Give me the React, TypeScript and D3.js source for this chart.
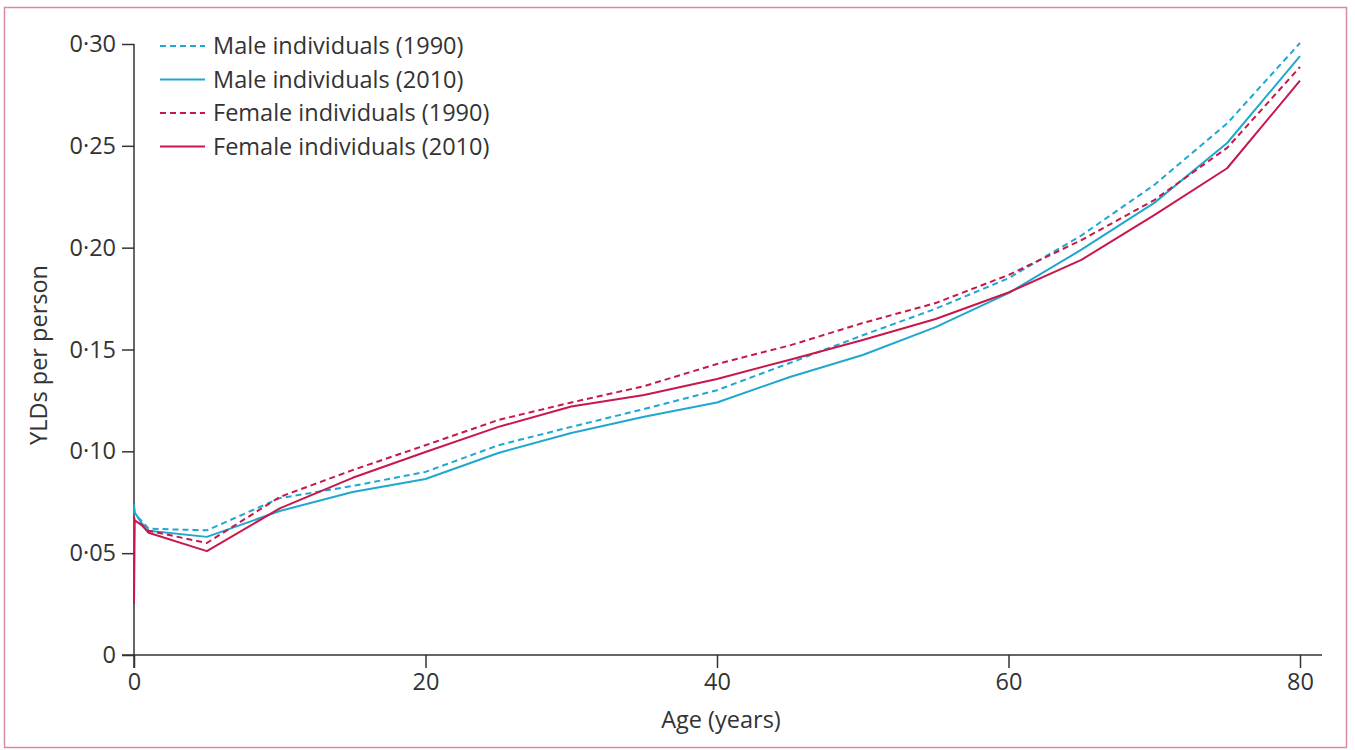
import * as d3 from "d3";
import { useEffect, useRef } from "react";

// age groups (years); first three are neonatal / post-neonatal groups
const ages = [0, 0.05, 0.5, 1, 5, 10, 15, 20, 25, 30, 35, 40, 45, 50, 55, 60, 65, 70, 75, 80];

const male1990 = [0.072, 0.069, 0.066, 0.062, 0.0612, 0.077, 0.083, 0.0899, 0.103, 0.112, 0.1208, 0.130, 0.1434, 0.157, 0.170, 0.185, 0.206, 0.2308, 0.261, 0.3005];
const male2010 = [0.074, 0.070, 0.065, 0.061, 0.058, 0.0707, 0.080, 0.0864, 0.0992, 0.109, 0.117, 0.124, 0.1365, 0.1473, 0.161, 0.1777, 0.199, 0.222, 0.2514, 0.294];
const female1990 = [0.068, 0.066, 0.064, 0.061, 0.055, 0.0776, 0.0908, 0.103, 0.1154, 0.124, 0.132, 0.1429, 0.152, 0.163, 0.1728, 0.1866, 0.2037, 0.2234, 0.249, 0.2887];
const female2010 = [0.025, 0.066, 0.064, 0.060, 0.051, 0.072, 0.087, 0.0997, 0.112, 0.122, 0.1277, 0.1355, 0.145, 0.1547, 0.165, 0.178, 0.194, 0.216, 0.239, 0.282];

const seriesNames = ["Male individuals (1990)", "Male individuals (2010)", "Female individuals (1990)", "Female individuals (2010)"];
const yTicks = [0, 0.05, 0.1, 0.15, 0.2, 0.25, 0.3];
const xTicks = [0, 20, 40, 60, 80];

const CYAN = "#1fa8cf";
const RED = "#c8174b";
const INK = "#333";

export default function App() {
  const ref = useRef<SVGSVGElement>(null);

  useEffect(() => {
    const width = 1355;
    const height = 750;
    const svg = d3.select(ref.current);
    svg.selectAll("*").remove();
    svg.attr("width", width).attr("height", height);

    const x = d3.scaleLinear().domain([0, 80]).range([134, 1300]);
    const y = d3.scaleLinear().domain([0, 0.3]).range([655, 44]);

    svg.append("rect")
      .attr("x", 4.5).attr("y", 7.5)
      .attr("width", 1342).attr("height", 740)
      .attr("fill", "#fff")
      .attr("stroke", "#d98aa1")
      .attr("stroke-width", 1.5);

    const font = "'Open Sans', 'Noto Sans', sans-serif";
    const fs = 23.5;

    // y axis
    const gy = svg.append("g").attr("transform", "translate(134,0)")
      .call(d3.axisLeft(y).tickValues(yTicks).tickSize(12).tickPadding(6)
        .tickFormat(d => (+d === 0 ? "0" : d3.format(".2f")(+d).replace(".", "·"))));
    gy.select(".domain").attr("d", "M0,44V668");
    gy.selectAll("line").attr("stroke", INK).attr("stroke-width", 1.5);
    gy.select(".domain").attr("stroke", INK).attr("stroke-width", 1.5);
    gy.selectAll("text").attr("fill", INK).attr("font-size", fs).attr("font-family", font);

    // x axis
    const gx = svg.append("g").attr("transform", "translate(0,655)")
      .call(d3.axisBottom(x).tickValues(xTicks).tickSize(13).tickPadding(5).tickFormat(d3.format("d")));
    gx.select(".domain").attr("d", "M122,0H1322").attr("stroke", INK).attr("stroke-width", 1.5);
    gx.selectAll("line").attr("stroke", INK).attr("stroke-width", 1.5);
    gx.selectAll("text").attr("fill", INK).attr("font-size", fs).attr("font-family", font);

    svg.append("text")
      .attr("x", 721).attr("y", 728)
      .attr("text-anchor", "middle")
      .attr("fill", INK).attr("font-size", fs).attr("font-family", font)
      .text("Age (years)");

    svg.append("text")
      .attr("transform", "translate(47,355) rotate(-90)")
      .attr("text-anchor", "middle")
      .attr("fill", INK).attr("font-size", fs).attr("font-family", font)
      .text("YLDs per person");

    const series = [
      { name: seriesNames[0], values: male1990, color: CYAN, dash: "6,4" },
      { name: seriesNames[1], values: male2010, color: CYAN, dash: null },
      { name: seriesNames[2], values: female1990, color: RED, dash: "6,4" },
      { name: seriesNames[3], values: female2010, color: RED, dash: null },
    ];

    const line = d3.line<number>()
      .x((_, i) => x(ages[i]))
      .y(d => y(d));

    svg.append("g").selectAll("path")
      .data(series)
      .join("path")
      .attr("d", s => line(s.values))
      .attr("fill", "none")
      .attr("stroke", s => s.color)
      .attr("stroke-width", 2)
      .attr("stroke-dasharray", s => s.dash ?? null)
      .attr("stroke-linejoin", "round");

    // legend
    const lg = svg.append("g");
    series.forEach((s, i) => {
      const ly = 46 + i * 33.5;
      lg.append("line")
        .attr("x1", 160).attr("x2", 205)
        .attr("y1", ly).attr("y2", ly)
        .attr("stroke", s.color)
        .attr("stroke-width", 2)
        .attr("stroke-dasharray", s.dash ?? null);
      lg.append("text")
        .attr("x", 213).attr("y", ly)
        .attr("dy", "0.35em")
        .attr("fill", INK).attr("font-size", fs).attr("font-family", font)
        .text(s.name);
    });
  }, []);

  return <svg ref={ref} style={{ position: "absolute", left: 0, top: 0 }} />;
}
